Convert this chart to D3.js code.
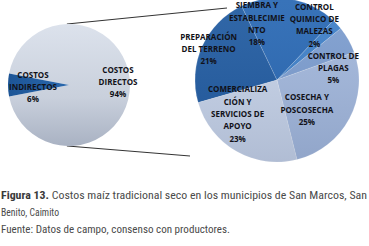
<!DOCTYPE html>
<html>
<head>
<meta charset="utf-8">
<script src="https://cdn.jsdelivr.net/npm/d3@7"></script>
<style>
  html, body { margin: 0; padding: 0; background: #fff; }
  svg { display: block; }
</style>
</head>
<body>
<svg id="chart" width="369" height="246"></svg>
<script>
// ---- data ----
const leftCategories = ["COSTOS DIRECTOS", "COSTOS INDIRECTOS"];
const leftValues = [94, 6];
const leftLabelLines = [["COSTOS", "DIRECTOS", "94%"], ["COSTOS", "INDIRECTOS", "6%"]];

const rightCategories = [
  "PREPARACIÓN DEL TERRENO",
  "SIEMBRA Y ESTABLECIMIENTO",
  "CONTROL QUIMICO DE MALEZAS",
  "CONTROL DE PLAGAS",
  "COSECHA Y POSCOSECHA",
  "COMERCIALIZACIÓN Y SERVICIOS DE APOYO"
];
const rightValues = [21, 18, 2, 5, 25, 23];
const rightLabelLines = [
  ["PREPARACIÓN", "DEL TERRENO", "21%"],
  ["SIEMBRA Y", "ESTABLECIMIE", "NTO", "18%"],
  ["CONTROL", "QUIMICO DE", "MALEZAS", "2%"],
  ["CONTROL DE", "PLAGAS", "5%"],
  ["COSECHA Y", "POSCOSECHA", "25%"],
  ["COMERCIALIZA", "CIÓN Y", "SERVICIOS DE", "APOYO", "23%"]
];

const captionBold = "Figura 13.";
const captionLine1 = " Costos maíz tradicional seco en los municipios de San Marcos, San";
const captionLine2 = "Benito, Caimito";
const captionLine3 = "Fuente: Datos de campo, consenso con productores.";

// ---- layout / style ----
const leftColors = ["url(#gLeft)", "url(#gDark)"];
const rightColors = ["#1f5aa0", "#2767b3", "#3d7fc8", "#7c9dcf", "#a3b8dc", "#c7d3e8"];
const L = { cx: 69, cy: 85, r: 61 };
const R = { cx: 277, cy: 80, r: 82, start: 254 };
const leftLabelPos = [[118, 82], [33, 87]];
const rightLabelOffsets = [[-22, -10], [-28, -6], [0, -20], [12, 13], [-15, 6], [-14, -10]];
const deg = Math.PI / 180;

const svg = d3.select("#chart");
const defs = svg.append("defs");
const gl = defs.append("linearGradient").attr("id", "gLeft").attr("x1", 0).attr("y1", 0).attr("x2", 0).attr("y2", 1);
gl.append("stop").attr("offset", "0%").attr("stop-color", "#dce2ec");
gl.append("stop").attr("offset", "60%").attr("stop-color", "#c9d0dc");
gl.append("stop").attr("offset", "100%").attr("stop-color", "#a9b2c3");
const gd = defs.append("linearGradient").attr("id", "gDark").attr("x1", 0).attr("y1", 0).attr("x2", 1).attr("y2", 0);
gd.append("stop").attr("offset", "0%").attr("stop-color", "#1d5596");
gd.append("stop").attr("offset", "100%").attr("stop-color", "#2a68ad");
const gs = defs.append("linearGradient").attr("id", "gShade").attr("x1", 0).attr("y1", 0).attr("x2", 0).attr("y2", 1);
gs.append("stop").attr("offset", "0%").attr("stop-color", "#ffffff").attr("stop-opacity", 0.08);
gs.append("stop").attr("offset", "100%").attr("stop-color", "#0a1a40").attr("stop-opacity", 0.12);

// connector lines (drawn first)
const lineG = svg.append("g").attr("stroke", "#333").attr("stroke-width", 1).attr("fill", "none");
const topA = [L.cx + L.r * Math.sin(-2 * deg), L.cy - L.r * Math.cos(-2 * deg)];
const botA = [L.cx + L.r * Math.sin(182 * deg), L.cy - L.r * Math.cos(182 * deg)];
lineG.append("line").attr("x1", topA[0]).attr("y1", topA[1]).attr("x2", 227).attr("y2", 8);
lineG.append("line").attr("x1", botA[0]).attr("y1", botA[1]).attr("x2", 190).attr("y2", 156);

// left pie
const leftStart = 270 * deg + (leftValues[1] / d3.sum(leftValues)) * Math.PI;
const leftPie = d3.pie().sort(null).startAngle(leftStart).endAngle(leftStart + 2 * Math.PI);
const leftArc = d3.arc().innerRadius(0).outerRadius(L.r);
const lg = svg.append("g").attr("transform", `translate(${L.cx},${L.cy})`);
lg.selectAll("path").data(leftPie(leftValues)).join("path")
  .attr("d", leftArc)
  .attr("fill", (d, i) => leftColors[i]);

// right pie
const rStart = R.start * deg;
const rightPie = d3.pie().sort(null).startAngle(rStart).endAngle(rStart + 2 * Math.PI);
const rightArc = d3.arc().innerRadius(0).outerRadius(R.r);
const labelArc = d3.arc().innerRadius(R.r * 0.62).outerRadius(R.r * 0.62);
const rg = svg.append("g").attr("transform", `translate(${R.cx},${R.cy})`);
const rArcs = rightPie(rightValues);
rg.selectAll("path.s").data(rArcs).join("path").attr("class", "s")
  .attr("d", rightArc)
  .attr("fill", (d, i) => rightColors[i])
  .attr("stroke", "#ffffff").attr("stroke-opacity", 0.25).attr("stroke-width", 0.6);
rg.append("circle").attr("r", R.r).attr("fill", "url(#gShade)");

// labels
const font = "'Open Sans', 'Noto Sans', sans-serif";
const lh = 12.3;
function block(g, x, yMid, lines, size) {
  const t = g.append("text").attr("text-anchor", "middle")
    .attr("font-family", font).attr("font-weight", 700).attr("font-size", size)
    .attr("fill", "#111118");
  const n = lines.length;
  lines.forEach((s, k) => {
    t.append("tspan").attr("x", x).attr("y", yMid + (k - (n - 1) / 2) * lh + size * 0.36).text(s);
  });
}
const labG = svg.append("g");
leftLabelLines.forEach((lines, i) => block(labG, leftLabelPos[i][0], leftLabelPos[i][1], lines, 8));
rArcs.forEach((a, i) => {
  const c = labelArc.centroid(a);
  block(labG, R.cx + c[0] + rightLabelOffsets[i][0], R.cy + c[1] + rightLabelOffsets[i][1], rightLabelLines[i], 8);
});

// caption
const capFont = "'Liberation Sans Narrow', 'Roboto Condensed', 'Liberation Sans', sans-serif";
const c1 = svg.append("text").attr("x", 1).attr("y", 199).attr("font-family", capFont).attr("font-size", 11.5)
  .attr("textLength", 366).attr("lengthAdjust", "spacingAndGlyphs");
c1.append("tspan").attr("font-weight", 700).attr("fill", "#3a3a3a").text(captionBold);
c1.append("tspan").attr("fill", "#4a4a4a").text(captionLine1);
svg.append("text").attr("x", 1).attr("y", 216).attr("font-family", capFont).attr("font-size", 11.5)
  .attr("fill", "#4a4a4a").attr("textLength", 58).attr("lengthAdjust", "spacingAndGlyphs").text(captionLine2);
svg.append("text").attr("x", 1).attr("y", 233).attr("font-family", capFont).attr("font-size", 11.5)
  .attr("fill", "#4a4a4a").attr("textLength", 229).attr("lengthAdjust", "spacingAndGlyphs").text(captionLine3);
</script>
</body>
</html>
